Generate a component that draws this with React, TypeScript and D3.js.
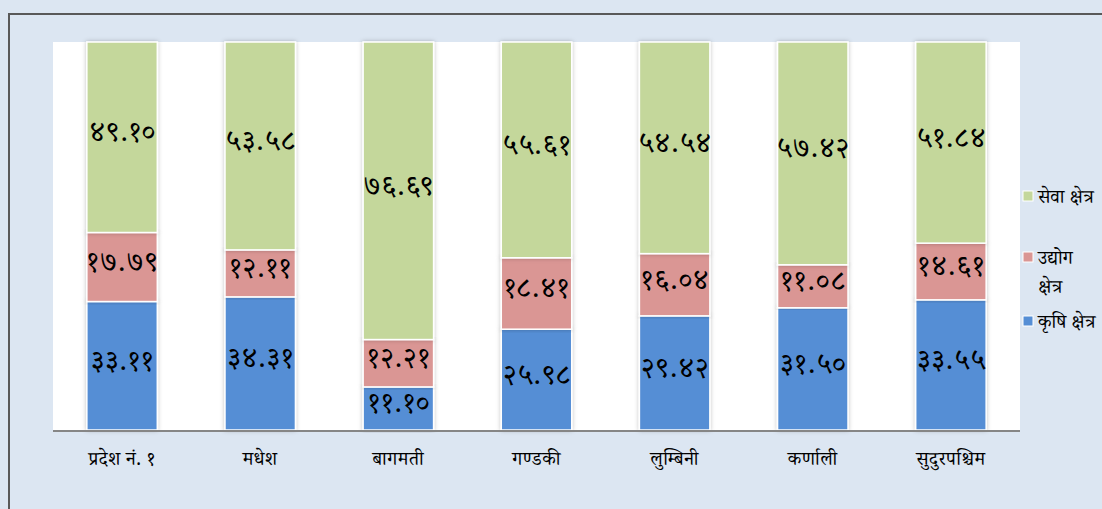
import React from 'react'
import * as d3 from 'd3'

const provinces = ['प्रदेश नं. १', 'मधेश', 'बागमती', 'गण्डकी', 'लुम्बिनी', 'कर्णाली', 'सुदुरपश्चिम']
const agriculture = [33.11, 34.31, 11.1, 25.98, 29.42, 31.5, 33.55]
const industry = [17.79, 12.11, 12.21, 18.41, 16.04, 11.08, 14.61]
const services = [49.1, 53.58, 76.69, 55.61, 54.54, 57.42, 51.84]

const seriesColors = ['#558ed5', '#da9694', '#c4d79b']

const devDigits = '०१२३४५६७८९'
const toDev = (v: number) => v.toFixed(2).replace(/[0-9]/g, (d) => devDigits[+d])

const FONT = "'Noto Serif Devanagari', 'Noto Sans Devanagari', 'Lohit Devanagari', serif"

export default function App() {
  const width = 1102
  const height = 509
  const plot = { left: 53, right: 1020, top: 42, bottom: 430 }

  const x = d3.scaleBand().domain(provinces).range([plot.left, plot.right]).paddingInner(0.49).paddingOuter(0.245)
  const y = d3.scaleLinear().domain([0, 100]).range([plot.bottom, plot.top])

  const table = provinces.map((p, i) => ({ p, a: agriculture[i], b: industry[i], c: services[i] }))
  const stacked = d3.stack<any>().keys(['a', 'b', 'c'])(table)

  // legend, top to bottom: services, industry (wrapped), agriculture
  const legendRows = [
    { i: 2, lines: ['सेवा क्षेत्र'], y: 197 },
    { i: 1, lines: ['उद्योग', 'क्षेत्र'], y: 258 },
    { i: 0, lines: ['कृषि क्षेत्र'], y: 322 },
  ]

  return (
    <svg width={width} height={height} style={{ position: 'absolute', left: 0, top: 0 }} fontFamily={FONT} fontWeight="normal">
      <defs>
        <filter id="shadow" x="-20%" y="-5%" width="140%" height="110%">
          <feDropShadow dx="0" dy="0" stdDeviation="2" floodColor="#000" floodOpacity="0.25" />
        </filter>
      </defs>
      <rect x={0} y={0} width={width} height={height} fill="#dce6f2" />
      <path d={`M9,${height} V14 H${width}`} fill="none" stroke="#595959" strokeWidth={2} />
      <rect x={plot.left} y={plot.top} width={plot.right - plot.left} height={plot.bottom - plot.top} fill="#fff" />

      {stacked.map((layer, si) => (
        <g key={si}>
          {layer.map((d, i) => (
            <rect
              key={i}
              x={x(provinces[i])}
              y={y(d[1])}
              width={x.bandwidth()}
              height={y(d[0]) - y(d[1])}
              fill={seriesColors[si]}
              stroke="#fff"
              strokeWidth={1.5}
              filter="url(#shadow)"
            />
          ))}
        </g>
      ))}

      {stacked.map((layer, si) => (
        <g key={'l' + si}>
          {layer.map((d, i) => (
            <text
              key={i}
              x={(x(provinces[i]) as number) + x.bandwidth() / 2 + 1}
              y={(y(d[0]) + y(d[1])) / 2}
              textAnchor="middle"
              dominantBaseline="central"
              fontSize={28}
              letterSpacing={1.5}
              fill="#000"
            >
              {toDev(d[1] - d[0])}
            </text>
          ))}
        </g>
      ))}

      <line x1={plot.left} x2={plot.right} y1={plot.bottom + 1} y2={plot.bottom + 1} stroke="#868686" strokeWidth={2} />

      {provinces.map((p) => (
        <text key={p} x={(x(p) as number) + x.bandwidth() / 2} y={465} textAnchor="middle" fontSize={19} letterSpacing={0.5} fill="#000">
          {p}
        </text>
      ))}

      {legendRows.map((r) => (
        <g key={r.i}>
          <rect x={1023} y={r.y - 6} width={10} height={10} fill={seriesColors[r.i]} stroke="#fff" strokeWidth={1} />
          {r.lines.map((ln, k) => (
            <text key={k} x={1038} y={r.y + 6 + k * 29} fontSize={19} fill="#000">
              {ln}
            </text>
          ))}
        </g>
      ))}
    </svg>
  )
}
